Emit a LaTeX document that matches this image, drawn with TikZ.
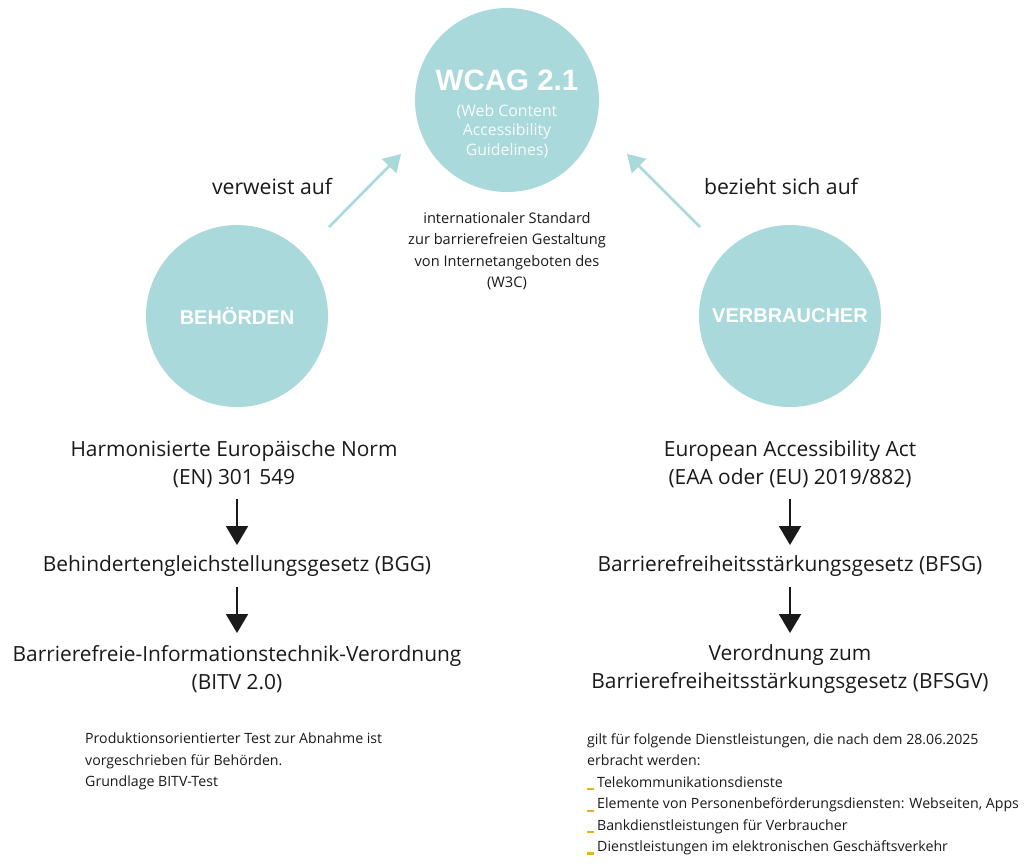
\documentclass[tikz,border=0pt]{standalone}
\usepackage{fontspec}
\setmainfont{Open Sans}
\newfontfamily\boldsans{Liberation Sans}
\usetikzlibrary{arrows.meta}
\definecolor{teal1}{HTML}{A9D9DB}
\definecolor{txt}{HTML}{1A1A1A}
\definecolor{bulletc}{HTML}{E8B020}
\newcommand{\bul}{\textcolor{bulletc}{\rule[-3pt]{7pt}{2.2pt}}\hspace{3pt}}
\tikzset{
  circ/.style={circle, fill=teal1, minimum size=#1, inner sep=0pt},
  ctext/.style={text=white, font=\boldsans\bfseries\fontsize{20}{24}\selectfont},
  big/.style={text=txt, align=center, font=\fontsize{20.9}{28}\selectfont, inner sep=0pt},
  mid/.style={text=txt, align=center, font=\fontsize{21.2}{24}\selectfont, inner sep=0pt},
  small/.style={text=txt, align=center, font=\fontsize{14.6}{21.5}\selectfont, inner sep=0pt},
  note/.style={text=txt, align=left, font=\fontsize{14.15}{21.4}\selectfont, inner sep=0pt, anchor=north west},
  tealarrow/.style={draw=teal1, line width=2.6pt, -{Triangle[width=20pt,length=17pt]}},
  blackarrow/.style={draw=txt, line width=2pt, -{Triangle[width=22pt,length=19pt]}}
}
\begin{document}
\begin{tikzpicture}[x=1pt,y=-1pt]
\useasboundingbox (0,0) rectangle (1024,863);
\fill[white] (0,0) rectangle (1024,863);
% circles
\node[circ=184pt] (wcag) at (507,100) {};
\node[circ=182pt] (beh) at (237,316) {};
\node[circ=182pt] (ver) at (790,316) {};
\node[text=white, font=\boldsans\bfseries\fontsize{29.5}{34}\selectfont] (wtitle) at (507,80) {WCAG 2.1};
\node[text=white!92!teal1, align=center, font=\fontsize{15.8}{19.5}\selectfont] (wsub) at (507,131) {(Web Content\\Accessibility\\Guidelines)};
\node[ctext] (behl) at (237,316) {BEHÖRDEN};
\node[ctext] (verl) at (790,316) {VERBRAUCHER};
% teal arrows
\coordinate (la) at (329,227);
\coordinate (lb) at (401,154);
\coordinate (ra) at (700,227);
\coordinate (rb) at (627,154);
\draw[tealarrow] (la) -- (lb);
\draw[tealarrow] (ra) -- (rb);
\node[mid] (verw) at (272,186) {verweist auf};
\node[mid] (bez) at (781,186) {bezieht sich auf};
\node[small] (std) at (507,251) {internationaler Standard\\zur barrierefreien Gestaltung\\von Internetangeboten des\\(W3C)};
% left column
\node[big] (en) at (234,464) {Harmonisierte Europäische Norm\\(EN) 301 549};
\node[big] (bgg) at (237,566) {Behindertengleichstellungsgesetz (BGG)};
\node[big] (bitv) at (237,669) {Barrierefreie-Informationstechnik-Verordnung\\(BITV 2.0)};
\draw[blackarrow] (237,499) -- (237,545);
\draw[blackarrow] (237,587) -- (237,633);
% right column
\node[big] (eaa) at (790,464) {European Accessibility Act\\(EAA oder (EU) 2019/882)};
\node[big] (bfsg) at (790,566) {Barrierefreiheitsstärkungsgesetz (BFSG)};
\node[big] (bfsgv) at (790,669) {Verordnung zum\\Barrierefreiheitsstärkungsgesetz (BFSGV)};
\draw[blackarrow] (790,499) -- (790,545);
\draw[blackarrow] (790,587) -- (790,633);
% notes
\node[note] (n1) at (85,733) {Produktionsorientierter Test zur Abnahme ist\\vorgeschrieben für Behörden.\\Grundlage BITV-Test};
\node[note] (n2) at (587,733.5) {gilt für folgende Dienstleistungen, die nach dem 28.06.2025\\erbracht werden:\\
\bul Telekommunikationsdienste\\
\bul Elemente von Personenbeförderungsdiensten: Webseiten, Apps\\
\bul Bankdienstleistungen für Verbraucher\\
\bul Dienstleistungen im elektronischen Geschäftsverkehr};
\end{tikzpicture}
\end{document}
